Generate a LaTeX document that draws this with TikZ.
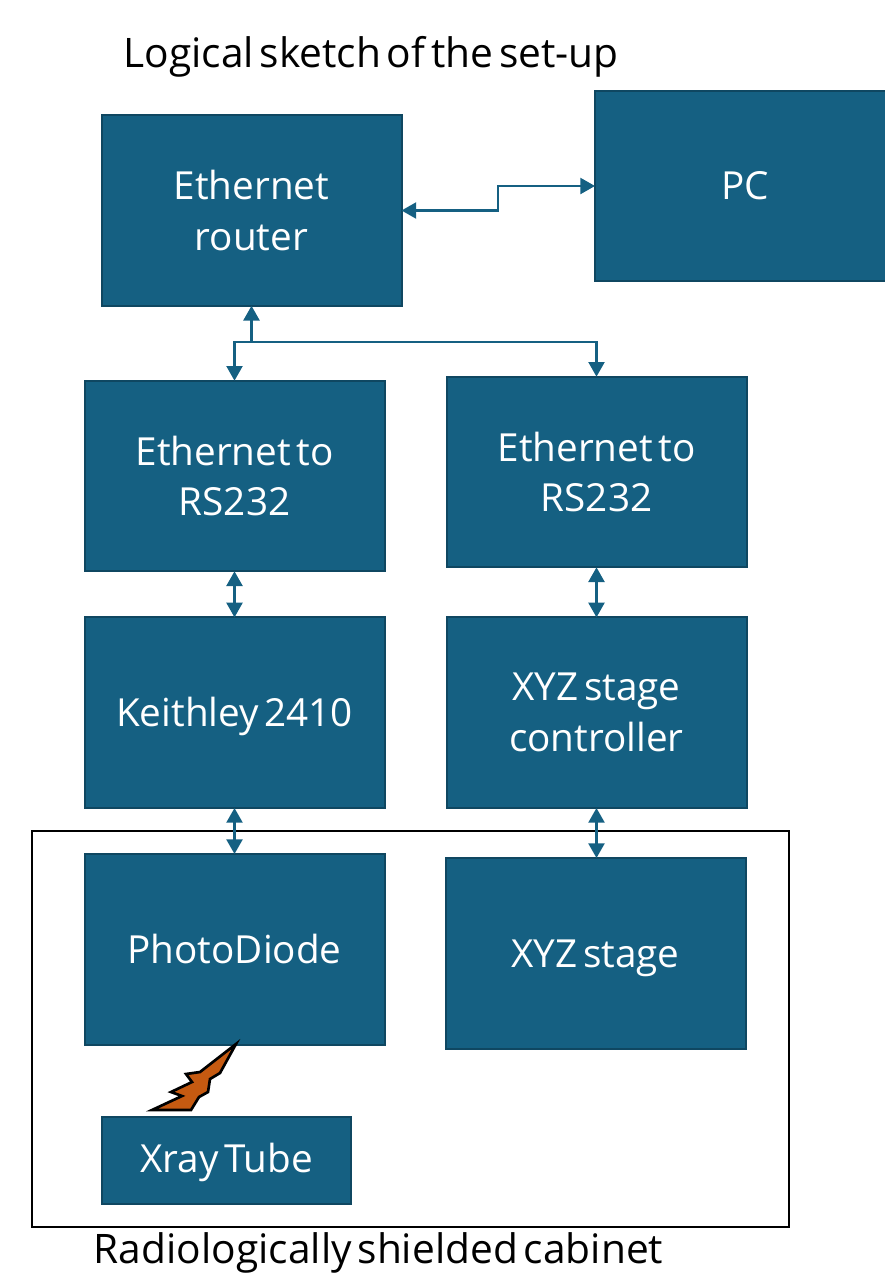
\documentclass[tikz,border=0pt]{standalone}
\usepackage{fontspec}
\setmainfont[WordSpace=0.55]{Open Sans}
\usepackage{xcolor}
\usetikzlibrary{positioning,arrows.meta}
\definecolor{boxblue}{HTML}{156082}
\definecolor{boxedge}{HTML}{0F4761}
\definecolor{boltorange}{HTML}{C55A11}

\begin{document}
\begin{tikzpicture}[
  x=.75pt,y=-.75pt,
  font=\fontsize{29}{38}\selectfont,
  node distance=34.5pt,
  block/.style={draw=boxedge,line width=1.5pt,fill=boxblue,text=white,align=center,
                minimum width=225pt,minimum height=143pt,inner sep=2pt,outer sep=0pt},
  link/.style={{Triangle[length=11pt,width=12pt]}-{Triangle[length=11pt,width=12pt]},
               boxblue,line width=1.7pt},
  busline/.style={-{Triangle[length=11pt,width=12pt]},boxblue,line width=1.7pt},
  caption/.style={text=black,inner sep=0pt,font=\fontsize{30.5}{38}\selectfont}
]
\useasboundingbox (0,0) rectangle (885,1275);

\node[draw=black,line width=1.5pt,minimum width=567.75pt,minimum height=297pt,
      inner sep=0pt,outer sep=0pt] (cabinet) at (410.5,1029) {};

\node[block] (router) at (251.5,210.5) {Ethernet\\router};
\node[block] (pc) at (745,186) {PC};
\node[block] (convA) at (234.5,476) {Ethernet to\\RS232};
\node[block] (convB) at (596.5,472) {Ethernet to\\RS232};
\node[block,below=of convA,text height=28pt] (keithley) {Keithley 2410};
\node[block,below=37.5pt of convB] (stagectrl) {XYZ stage\\controller};
\node[block,below=of keithley] (diode) {PhotoDiode};
\node[block,below=37.5pt of stagectrl,xshift=-.75pt,text height=28pt] (stage) {XYZ stage};
\node[block,minimum width=186.75pt,minimum height=65pt,text height=25pt] (xray) at (226.5,1160.5) {Xray Tube};

\node[caption] (title) at (371,57) {Logical sketch of the set-up};
\node[caption] (shieldlabel) at (378.5,1253) {Radiologically shielded cabinet};

\coordinate (elbowA) at (498,186);
\coordinate (busjoin) at (251.5,342);

\draw[link] (router.east)--(router.east -| elbowA)--(pc.west -| elbowA)--(pc.west);
\draw[link] (router.south)--(busjoin)-|(convA.north);
\draw[busline] (busjoin)-|(convB.north);
\draw[link] (convA)--(keithley);
\draw[link] (convB)--(stagectrl);
\draw[link] (keithley)--(diode);
\draw[link] (stagectrl)--(stagectrl.south |- stage.north);

% bolt between diode and tube
\draw[fill=boltorange,draw=black,line width=2pt,line join=miter,miter limit=8]
  (236,1044)--(220,1073)--(210,1079)--(208,1092)--(199,1097)--(191,1110)--(152,1110)
  --(182,1096)--(171,1092)--(192,1082)--(186,1074)--(200,1072)--cycle;
\end{tikzpicture}
\end{document}
